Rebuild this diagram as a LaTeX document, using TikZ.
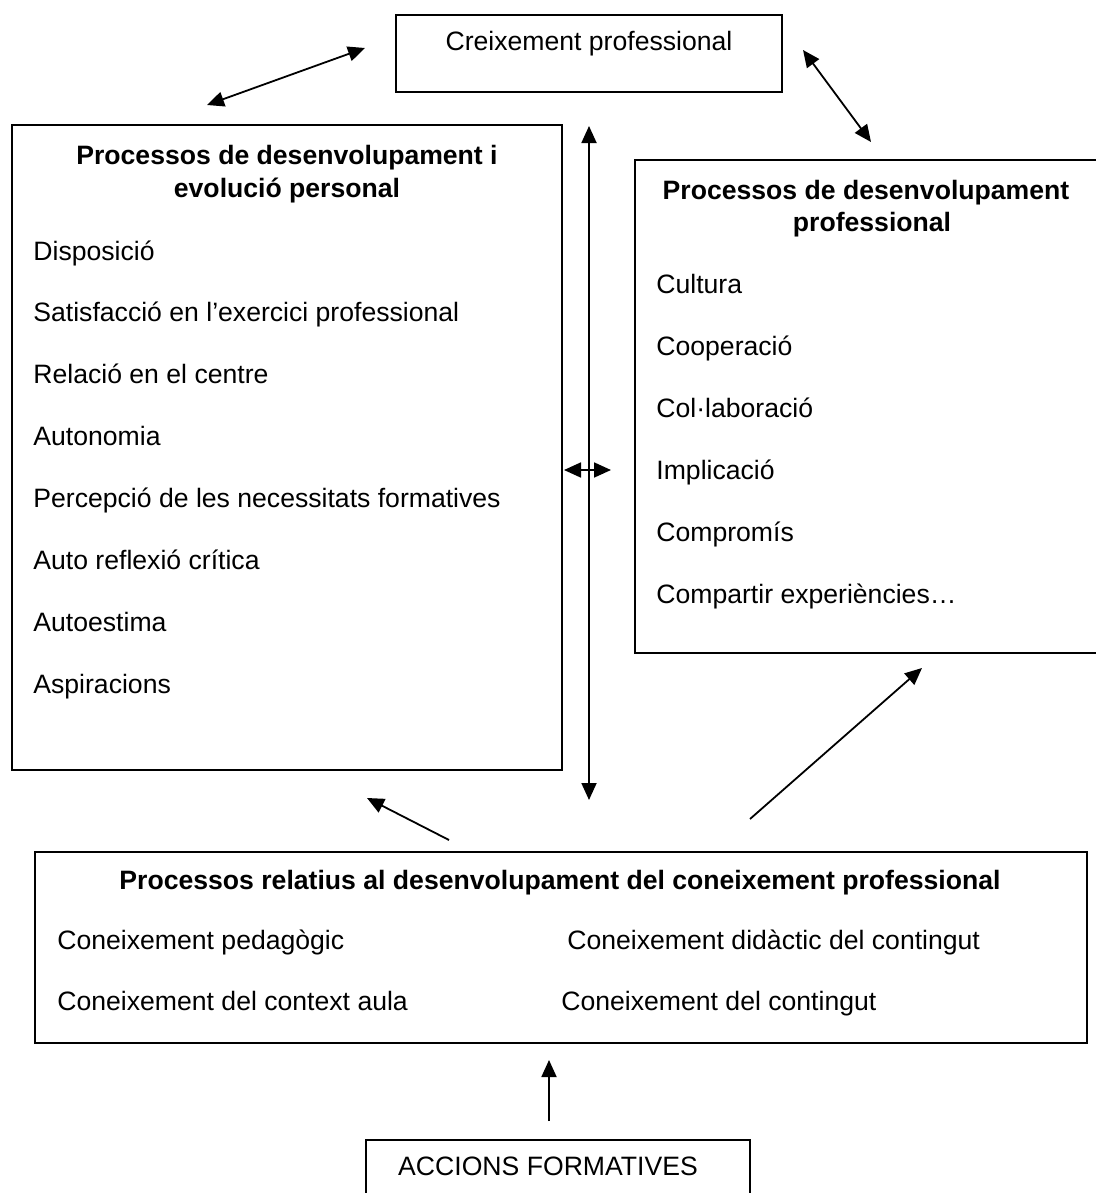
\documentclass[tikz,border=0pt]{standalone}
\usepackage{fontspec}
\setmainfont{Liberation Sans}
\usetikzlibrary{arrows.meta}
\begin{document}
\begin{tikzpicture}[x=0.5pt,y=-0.5pt,
  box/.style={draw, line width=0.75pt, inner sep=0pt},
  txt/.style={anchor=base west, inner sep=0pt, font=\fontsize{13.3}{16}\selectfont},
  ctxt/.style={anchor=base, inner sep=0pt, font=\fontsize{13.3}{16}\selectfont},
  ttl/.style={anchor=base, inner sep=0pt, font=\fontsize{13.3}{16}\selectfont\bfseries},
  arr/.style={line width=0.9pt, -{Triangle[length=8.5pt,width=7.5pt]}},
  darr/.style={line width=0.9pt, {Triangle[length=8.5pt,width=7.5pt]}-{Triangle[length=8.5pt,width=7.5pt]}}]
\useasboundingbox (0,0) rectangle (1096,1193);
% boxes
\node[box, minimum width=193pt, minimum height=38.5pt] (top) at (589,53.5) {};
\node[box, minimum width=275pt, minimum height=322.5pt] (left) at (287,447.5) {};
\node[box, minimum width=237.5pt, minimum height=246.5pt] (right) at (872.5,406.5) {};
\node[box, minimum width=526pt, minimum height=95.5pt] (bottom) at (561,947.5) {};
\node[box, minimum width=192pt, minimum height=40pt] (acc) at (558,1180) {};
% texts
\node[ctxt] (topt) at (589,51) {Creixement professional};
\node[ttl] (lt1) at (287,164) {Processos de desenvolupament i};
\node[ttl] (lt2) at (287,197) {evolució personal};
\node[txt] (l1) at (33,260) {Disposició};
\node[txt] (l2) at (33,321) {Satisfacció en l’exercici professional};
\node[txt] (l3) at (33,383) {Relació en el centre};
\node[txt] (l4) at (33,445) {Autonomia};
\node[txt] (l5) at (33,507) {Percepció de les necessitats formatives};
\node[txt] (l6) at (33,569) {Auto reflexió crítica};
\node[txt] (l7) at (33,631) {Autoestima};
\node[txt] (l8) at (33,693) {Aspiracions};
\node[ttl] (rt1) at (866,199) {Processos de desenvolupament};
\node[ttl] (rt2) at (872,231) {professional};
\node[txt] (r1) at (656,293) {Cultura};
\node[txt] (r2) at (656,355) {Cooperació};
\node[txt] (r3) at (656,417) {Col·laboració};
\node[txt] (r4) at (656,479) {Implicació};
\node[txt] (r5) at (656,541) {Compromís};
\node[txt] (r6) at (656,603) {Compartir experiències…};
\node[ttl] (bt) at (560,889) {Processos relatius al desenvolupament del coneixement professional};
\node[txt] (b1) at (57,949) {Coneixement pedagògic};
\node[txt] (b2) at (567,949) {Coneixement didàctic del contingut};
\node[txt] (b3) at (57,1010) {Coneixement del context aula};
\node[txt] (b4) at (561,1010) {Coneixement del contingut};
\node[ctxt] (acct) at (548,1175) {ACCIONS FORMATIVES};
% connector ends
\coordinate (a1) at (207,105); \coordinate (a2) at (365,48);
\coordinate (b1e) at (803,50); \coordinate (b2e) at (871,142);
\coordinate (c1) at (589,126); \coordinate (c2) at (589,800);
\coordinate (d1) at (564,470); \coordinate (d2) at (611,470);
\coordinate (e1) at (449,840); \coordinate (e2) at (367,798);
\coordinate (f1) at (750,819); \coordinate (f2) at (922,668);
\coordinate (g1) at (549,1121); \coordinate (g2) at (549,1060);
\draw[darr] (a1) -- (a2);
\draw[darr] (b1e) -- (b2e);
\draw[darr] (c1) -- (c2);
\draw[darr] (d1) -- (d2);
\draw[arr] (e1) -- (e2);
\draw[arr] (f1) -- (f2);
\draw[arr] (g1) -- (g2);
\end{tikzpicture}
\end{document}
